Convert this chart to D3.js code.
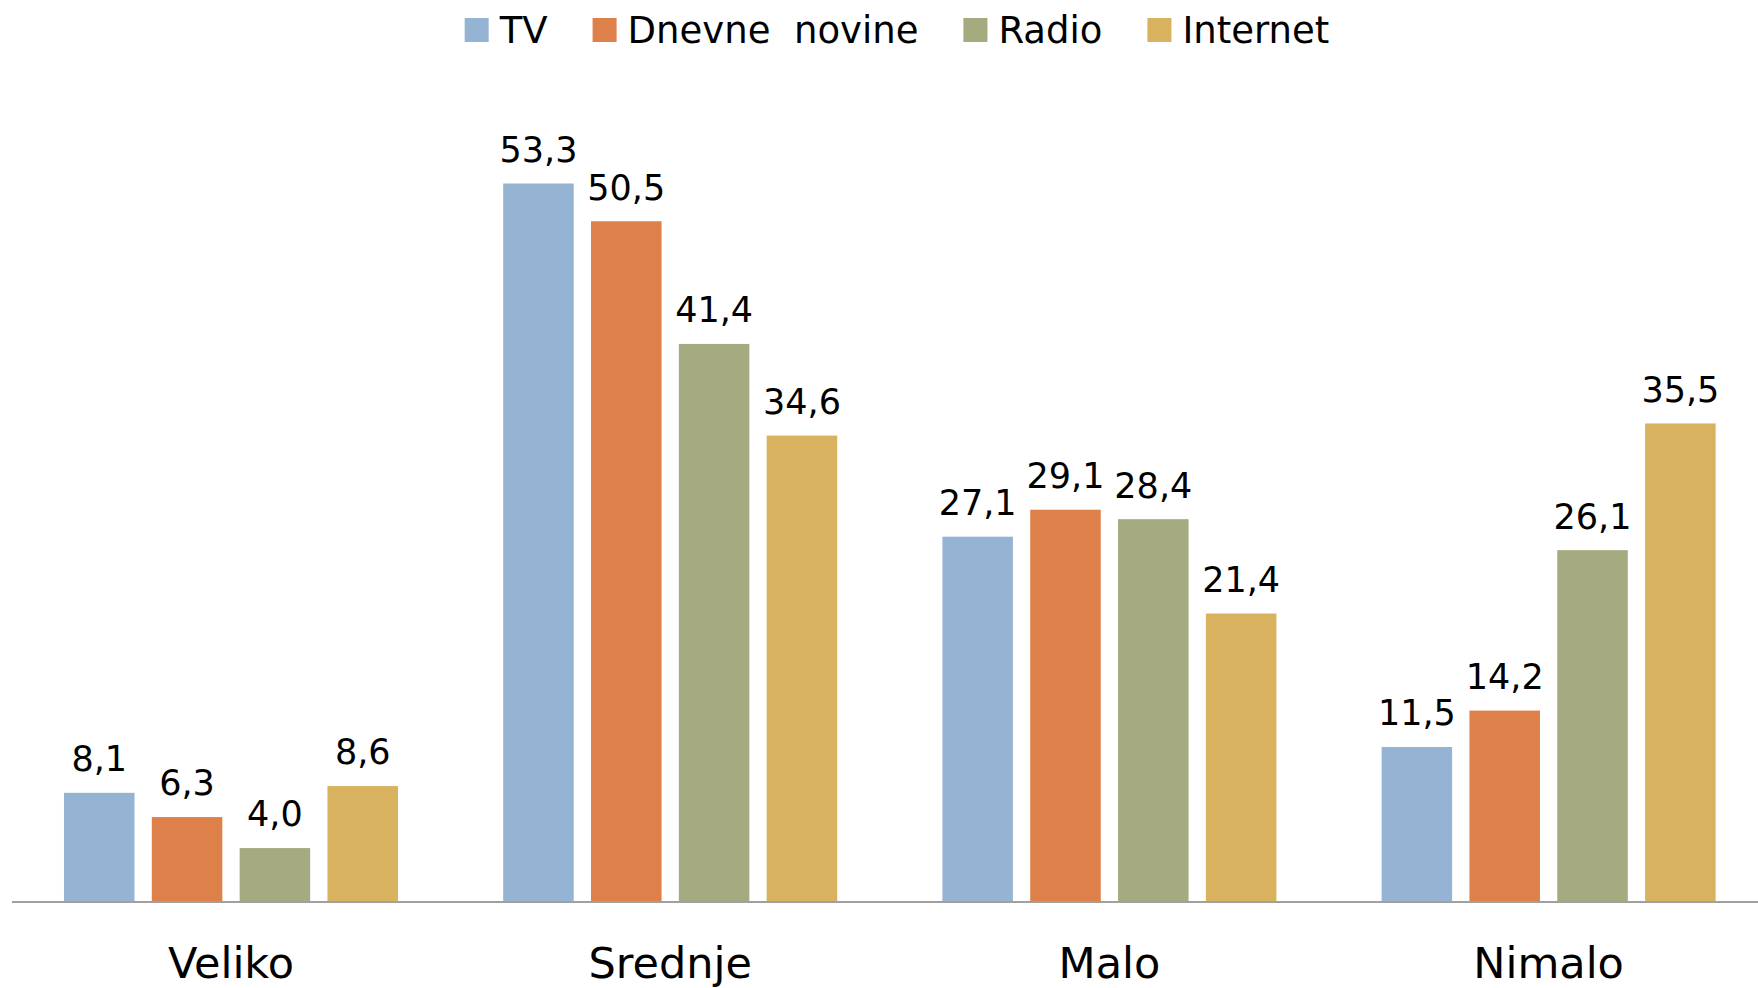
<!DOCTYPE html>
<html>
<head>
<meta charset="utf-8">
<script src="https://cdn.jsdelivr.net/npm/d3@7"></script>
<style>
    html, body { margin: 0; padding: 0; background: #fff; }
    svg { display: block; font-family: "DejaVu Sans", "Noto Sans", sans-serif; }
</style>
</head>
<body>
<svg width="1758" height="988"></svg>
<script>
var categories = ['Veliko', 'Srednje', 'Malo', 'Nimalo'];
var seriesNames = ['TV', 'Dnevne  novine', 'Radio', 'Internet'];
var tvValues = [8.1, 53.3, 27.1, 11.5];
var novineValues = [6.3, 50.5, 29.1, 14.2];
var radioValues = [4.0, 41.4, 28.4, 26.1];
var internetValues = [8.6, 34.6, 21.4, 35.5];
var seriesColors = ['#95B4D3', '#DE8049', '#A5AA80', '#D8B25E'];

(function () {
    'use strict';

    var svg = d3.select('svg'),
        width = +svg.attr('width');

    var allValues = [tvValues, novineValues, radioValues, internetValues];

    var data = categories.map(function (c, i) {
        return {
            category: c,
            values: seriesNames.map(function (s, j) {
                return {series: s, value: allValues[j][i], color: seriesColors[j]};
            })
        };
    });

    var x0 = d3.scaleBand()
        .domain(categories)
        .range([11.4, 1768.2])
        .paddingInner(0.2395)
        .paddingOuter(0.1197);

    var x1 = d3.scaleBand()
        .domain(seriesNames)
        .range([0, x0.bandwidth()])
        .paddingInner(0.197);

    var y = d3.scaleLinear()
        .domain([0, 60])
        .range([902, 93.2]);

    // bars
    var groups = svg.append('g').selectAll('g')
        .data(data)
        .enter().append('g')
        .attr('transform', function (d) { return 'translate(' + x0(d.category) + ',0)'; });

    groups.selectAll('rect')
        .data(function (d) { return d.values; })
        .enter().append('rect')
        .attr('x', function (d) { return x1(d.series); })
        .attr('y', function (d) { return y(d.value); })
        .attr('width', x1.bandwidth())
        .attr('height', function (d) { return y(0) - y(d.value); })
        .attr('fill', function (d) { return d.color; });

    groups.selectAll('text')
        .data(function (d) { return d.values; })
        .enter().append('text')
        .attr('x', function (d) { return x1(d.series) + x1.bandwidth() / 2; })
        .attr('y', function (d) { return y(d.value) - 21.6; })
        .attr('text-anchor', 'middle')
        .attr('font-size', 35)
        .attr('fill', '#000')
        .text(function (d) { return d3.format('.1f')(d.value).replace('.', ','); });

    // x axis
    var xAxis = svg.append('g')
        .attr('transform', 'translate(0,' + y(0) + ')')
        .call(d3.axisBottom(x0).tickSize(0).tickPadding(0));

    xAxis.select('.domain').remove();
    xAxis.append('line')
        .attr('x1', 12)
        .attr('x2', width)
        .attr('stroke', '#A0A0A0')
        .attr('stroke-width', 2);

    xAxis.selectAll('.tick text')
        .attr('dy', null)
        .attr('y', 76)
        .attr('font-size', 43)
        .attr('font-family', '"DejaVu Sans", sans-serif')
        .attr('fill', '#000');

    // legend
    var legend = svg.append('g');
    var offset = 0;
    seriesNames.forEach(function (s, i) {
        var item = legend.append('g').attr('transform', 'translate(' + offset + ',0)');
        item.append('rect')
            .attr('x', 0)
            .attr('y', 18)
            .attr('width', 24)
            .attr('height', 24)
            .attr('fill', seriesColors[i]);
        var t = item.append('text')
            .attr('x', 35)
            .attr('y', 43)
            .attr('font-size', 37)
            .style('white-space', 'pre')
            .attr('fill', '#000')
            .text(s);
        offset += 35 + t.node().getComputedTextLength() + 45;
    });
    var legendWidth = offset - 45;
    legend.attr('transform', 'translate(' + (897 - legendWidth / 2) + ',0)');
})();
</script>
</body>
</html>
